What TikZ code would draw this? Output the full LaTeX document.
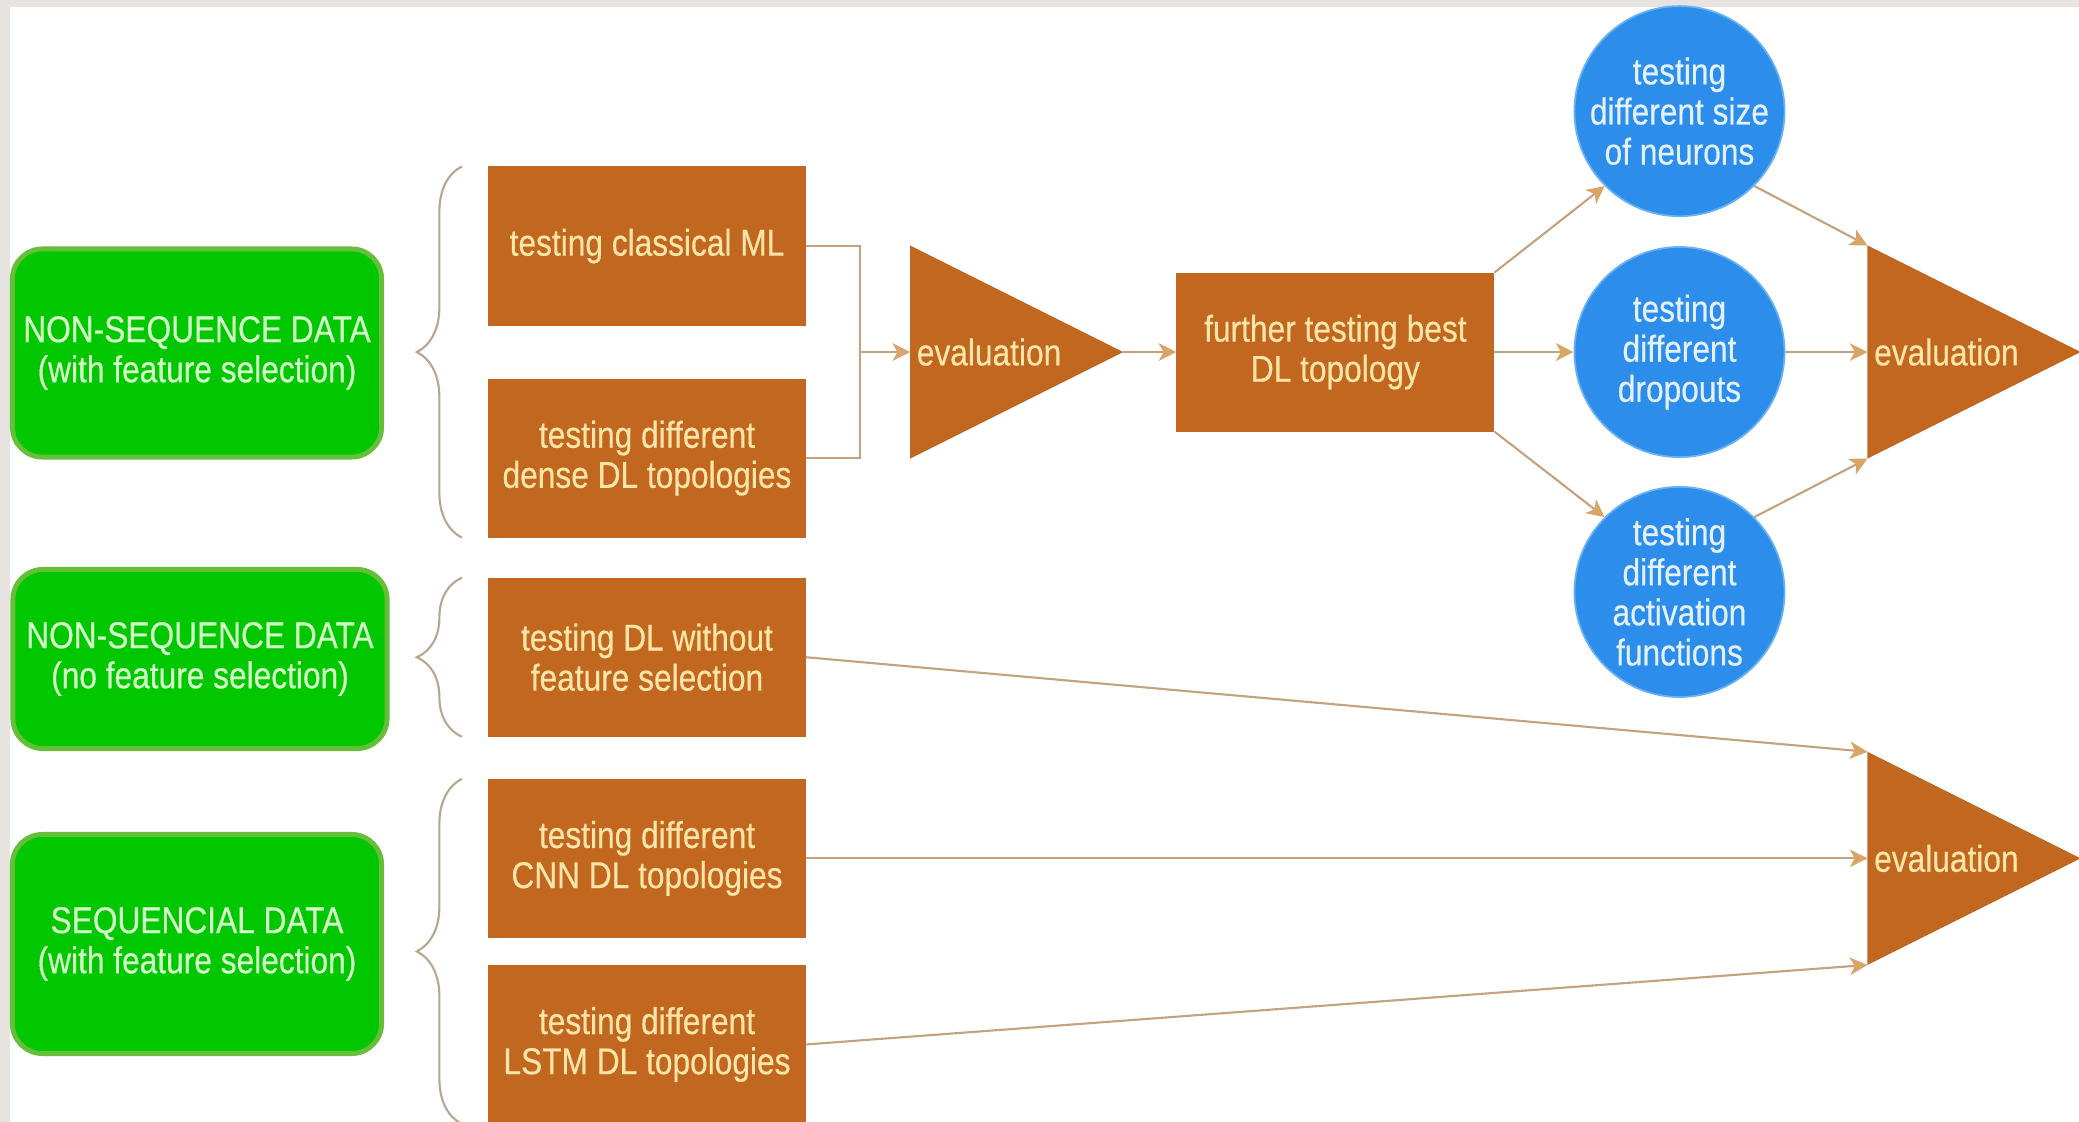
\documentclass[tikz,border=0pt]{standalone}
\usepackage{fontspec}
\setmainfont[FakeStretch=0.85, FakeBold=0.4]{Liberation Sans}
\usepackage{xcolor}
\usepackage{tikz}
\usetikzlibrary{shapes,arrows.meta,positioning,calc,decorations.pathreplacing}

\definecolor{framegrey}{HTML}{E6E3E0}
\definecolor{datagreen}{HTML}{00C700}
\definecolor{dataedge}{HTML}{66BE3A}
\definecolor{datatext}{HTML}{D4FFC8}
\definecolor{testorange}{HTML}{C1671F}
\definecolor{testtext}{HTML}{FFE6A8}
\definecolor{tuneblue}{HTML}{2C8DEB}
\definecolor{tuneedge}{HTML}{69B2F2}
\definecolor{tunetext}{HTML}{E3F1FF}
\definecolor{linkcol}{HTML}{C4A27E}
\definecolor{tipcol}{HTML}{D9A468}
\definecolor{bracecol}{HTML}{B9A68E}

\begin{document}
\begin{tikzpicture}[
        x=0.01cm, y=-0.01cm,
        font=\fontsize{10.6}{11.4}\selectfont,
        data/.style={rectangle, rounded corners=0.3cm, draw=dataedge, line width=1.4pt, fill=datagreen, text=datatext, align=center, minimum width=3.69cm, inner sep=0.05cm},
        test/.style={rectangle, fill=testorange, text=testtext, align=center, minimum width=3.18cm, minimum height=1.59cm, inner sep=0, outer sep=0},
        tune/.style={circle, draw=tuneedge, line width=0.5pt, fill=tuneblue, text=tunetext, align=center, minimum size=2.1cm, inner sep=0},
        evaltri/.style={isosceles triangle, isosceles triangle stretches, fill=testorange, minimum width=2.13cm, minimum height=2.13cm, inner sep=0, outer sep=0},
        evaltext/.style={text=testtext, inner sep=0},
        link/.style={draw=linkcol, line width=0.6pt},
        arrow/.style={link, -{Stealth[length=5pt, width=5pt, inset=1.4pt, color=tipcol]}},
        brace/.style={draw=bracecol, line width=0.6pt, decorate, decoration={brace, amplitude=0.45cm}}
    ]
        % Frame
        \useasboundingbox (0,0) rectangle (2079,1122);
        \fill[white] (0,0) rectangle (2079,1122);
        \fill[framegrey] (0,0) rectangle (2079,7);
        \fill[framegrey] (0,0) rectangle (10,1122);

        % Data groups
        \node[data, minimum height=2.08cm] (nsfs) at (197,353) {NON-SEQUENCE DATA\\(with feature selection)};
        \node[data, minimum width=3.74cm, minimum height=1.79cm] (nsraw) at (200,659) {NON-SEQUENCE DATA\\(no feature selection)};
        \node[data, minimum height=2.19cm] (seqfs) at (197,944) {SEQUENCIAL DATA\\(with feature selection)};

        % Tests
        \node[test] (classic) at (647,246) {testing classical ML};
        \node[test, below=0.53cm of classic] (dense) {testing different\\dense DL topologies};
        \node[test, below=0.40cm of dense] (nofs) {testing DL without\\feature selection};
        \node[test, below=0.42cm of nofs] (cnn) {testing different\\CNN DL topologies};
        \node[test, below=0.27cm of cnn] (lstm) {testing different\\LSTM DL topologies};

        % Braces
        \draw[brace] ([xshift=-0.26cm]dense.south west) -- ([xshift=-0.26cm]classic.north west);
        \draw[brace] ([xshift=-0.26cm]nofs.south west) -- ([xshift=-0.26cm]nofs.north west);
        \draw[brace] ([xshift=-0.26cm]lstm.south west) -- ([xshift=-0.26cm]cnn.north west);

        % First evaluation
        \coordinate (merge) at ($(classic.east)!0.5!(dense.east)+(54,0)$);
        \node[evaltri, right=0.50cm of merge] (eval1) {};
        \node[evaltext, right=0.06cm of eval1.west] (evaltxt1) {evaluation};

        % Best topology and tuning
        \node[test, right=0.53cm of eval1.apex] (best) {further testing best\\DL topology};
        \node[tune, right=0.79cm of best] (dropout) {testing\\different\\dropouts};
        \node[tune, above=0.29cm of dropout] (neurons) {testing\\different size\\of neurons};
        \node[tune, below=0.28cm of dropout] (activation) {testing\\different\\activation\\functions};

        % Final evaluations
        \node[evaltri, right=0.82cm of dropout] (eval2) {};
        \node[evaltext, right=0.06cm of eval2.west] (evaltxt2) {evaluation};
        \node[evaltri, anchor=west] (eval3) at (eval2.west |- cnn) {};
        \node[evaltext, right=0.06cm of eval3.west] (evaltxt3) {evaluation};

        % Connections
        \draw[link] (classic.east) -| (merge);
        \draw[link] (dense.east) -| (merge);
        \draw[arrow] (merge) -- (eval1.west);
        \draw[arrow] (eval1.apex) -- (best.west);
        \draw[arrow] (best.north east) -- (neurons.-135);
        \draw[arrow] (best.east) -- (dropout.west);
        \draw[arrow] (best.south east) -- (activation.135);
        \draw[arrow] (neurons.-45) -- (eval2.left corner);
        \draw[arrow] (dropout.east) -- (eval2.west);
        \draw[arrow] (activation.45) -- (eval2.right corner);
        \draw[arrow] (nofs.east) -- (eval3.left corner);
        \draw[arrow] (cnn.east) -- (eval3.west);
        \draw[arrow] (lstm.east) -- (eval3.right corner);

    \end{tikzpicture}
\end{document}
